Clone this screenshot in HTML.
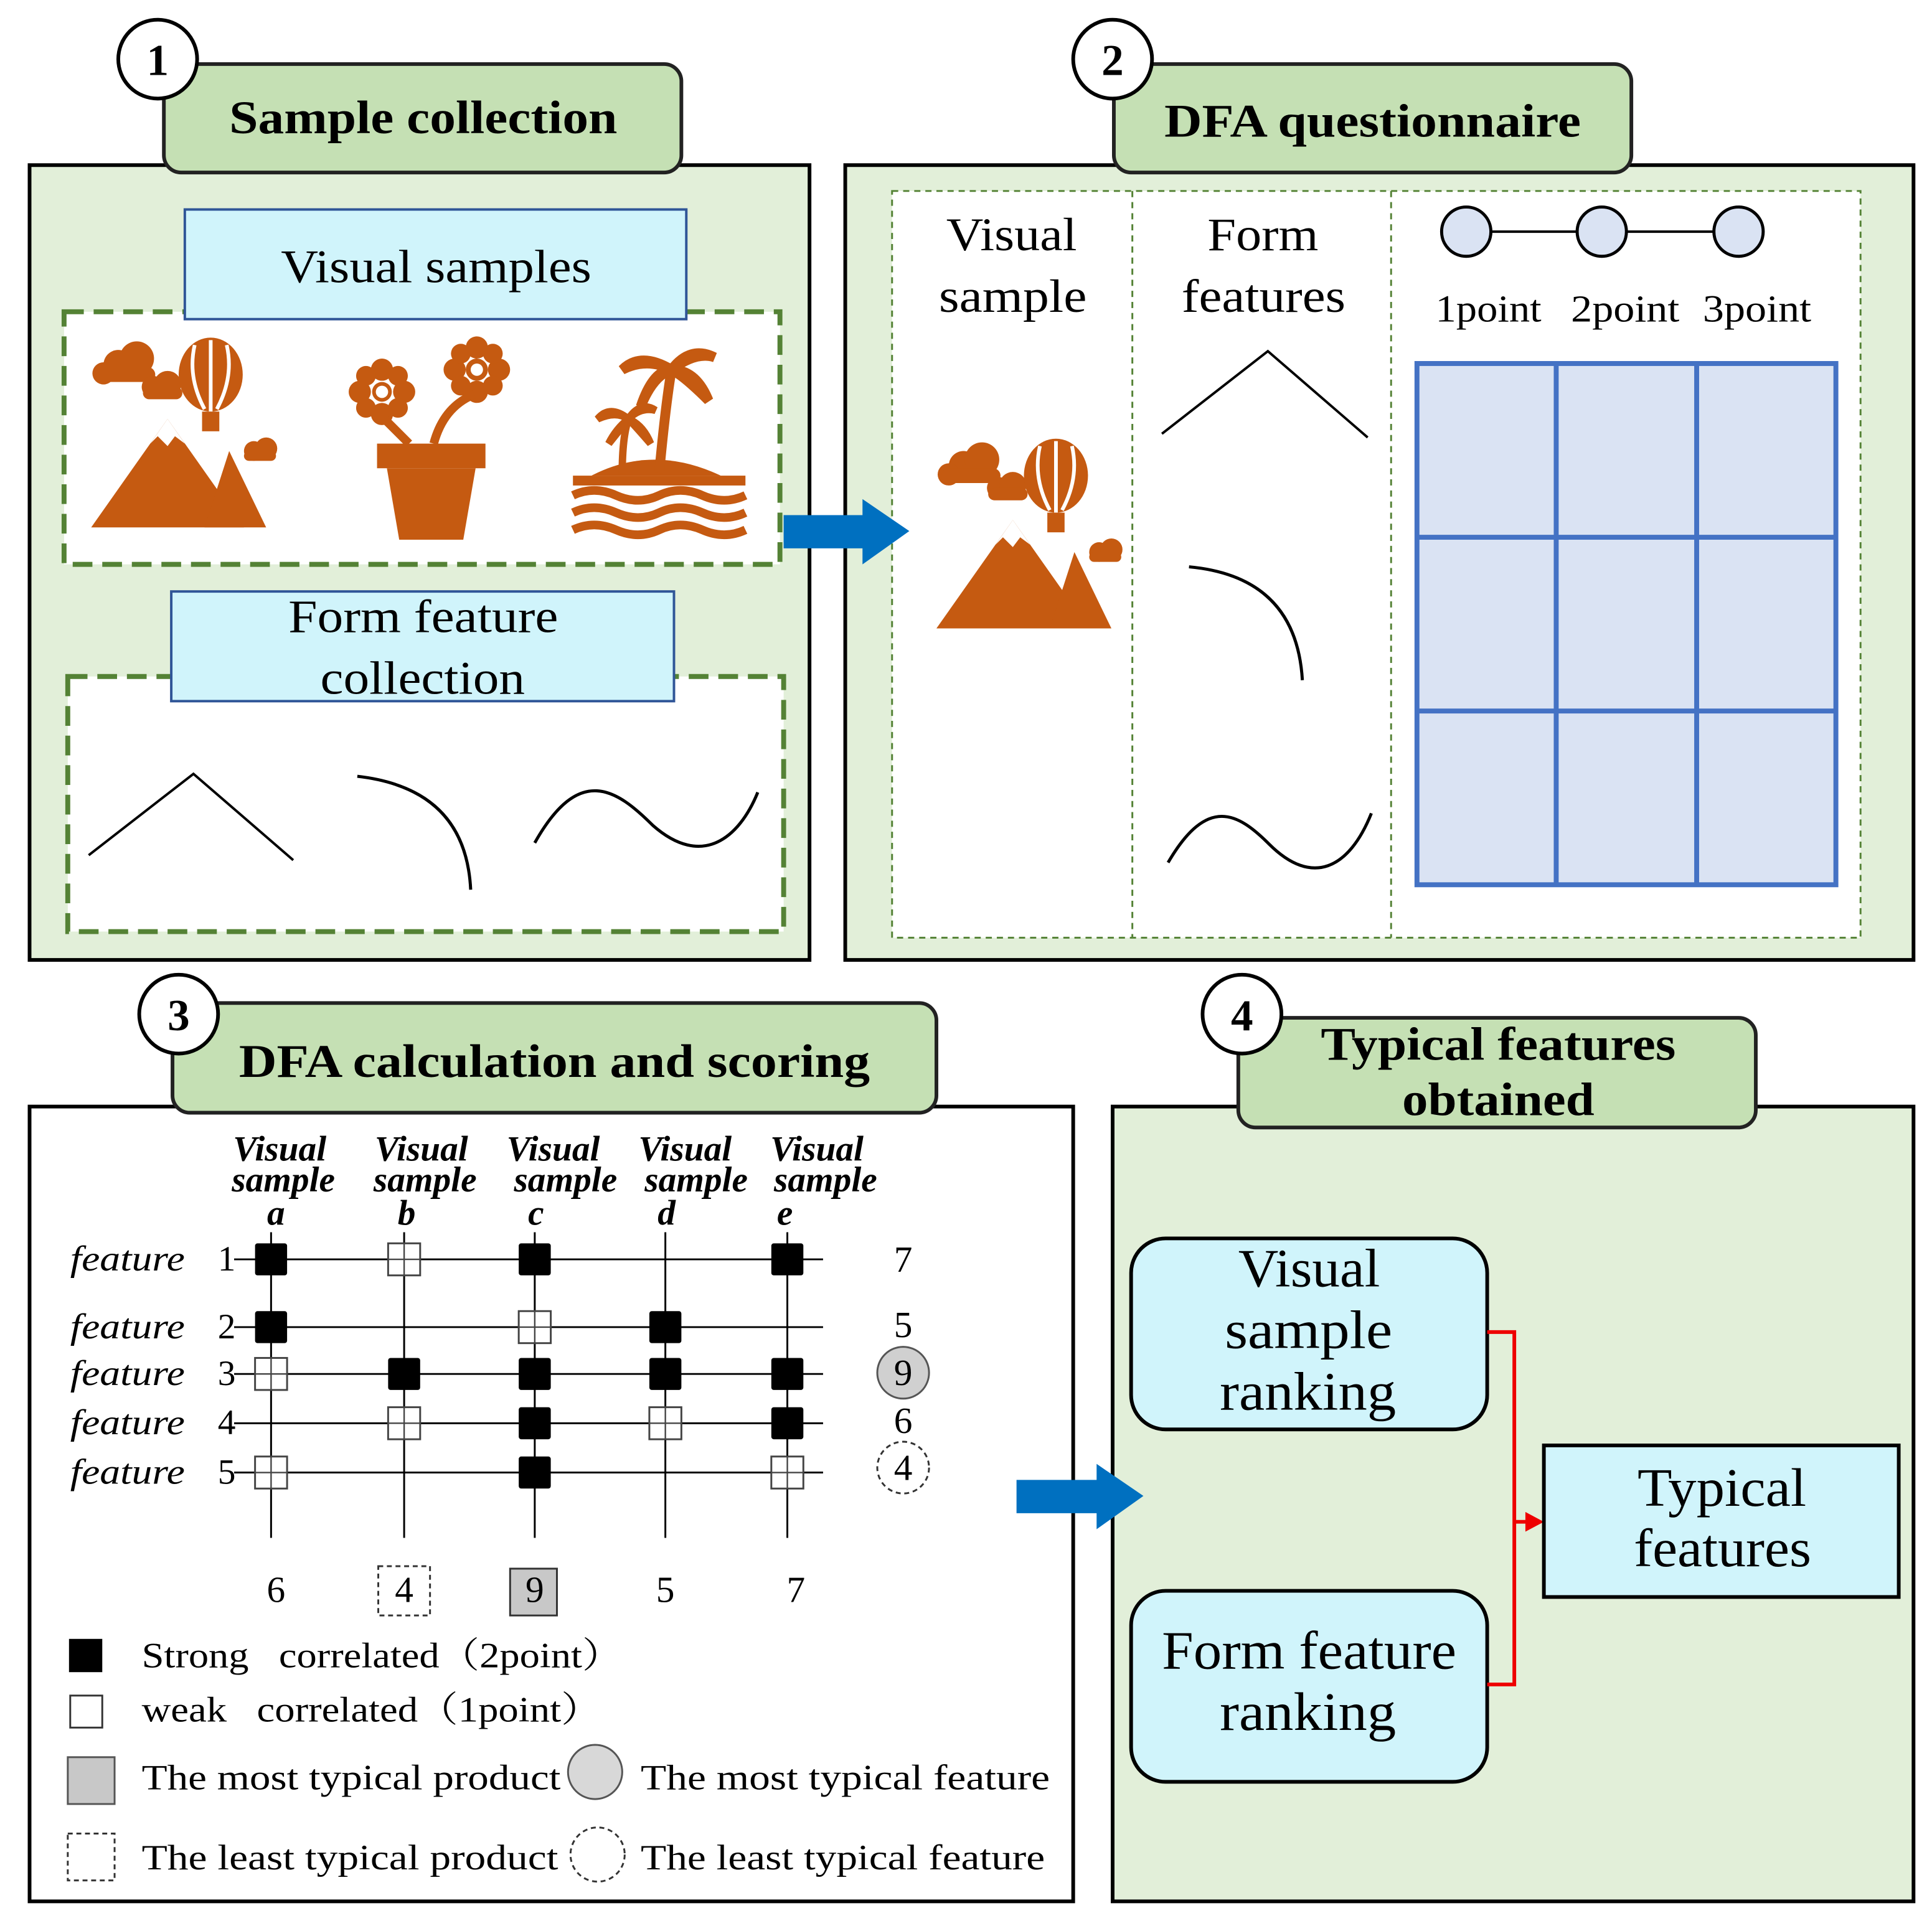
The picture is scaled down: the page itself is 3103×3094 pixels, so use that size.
<!DOCTYPE html>
<html><head><meta charset="utf-8"><style>html,body{margin:0;padding:0;background:#fff}svg{display:block}</style></head>
<body>
<svg width="3103" height="3094" viewBox="0 0 1568 1563" preserveAspectRatio="none" xmlns="http://www.w3.org/2000/svg" font-family="Liberation Serif, serif">
<defs>
<g id="mtn">
<circle cx="30" cy="20" r="12" fill="#c55a11"/><circle cx="45" cy="15" r="14" fill="#c55a11"/><circle cx="18" cy="27" r="9" fill="#c55a11"/><rect x="12" y="22" width="48" height="12" rx="6" fill="#c55a11"/>
<circle cx="58" cy="38" r="9" fill="#c55a11"/><circle cx="70" cy="36" r="11" fill="#c55a11"/><rect x="50" y="38" width="32" height="10" rx="5" fill="#c55a11"/>
<ellipse cx="105" cy="28" rx="26" ry="30" fill="#c55a11"/>
<path d="M105 0 V58 M92 4 Q86 30 100 56 M118 4 Q124 30 110 56" stroke="#fff" stroke-width="3" fill="none"/>
<rect x="98" y="58" width="14" height="16" fill="#c55a11"/>
<path d="M8 152 L70 64 L132 152 Z" fill="#c55a11"/>
<path d="M56 84 L70 64 L84 84 L76 78 L70 86 L62 78 Z" fill="#fff"/>
<path d="M100 152 L120 90 L150 152 Z" fill="#c55a11"/>
<circle cx="140" cy="90" r="8" fill="#c55a11"/><circle cx="150" cy="88" r="9" fill="#c55a11"/><rect x="132" y="90" width="26" height="8" rx="4" fill="#c55a11"/>
</g>
<g id="sq0"><rect x="-13" y="-13" width="26" height="26" fill="#000" rx="2"/></g>
<g id="sq1"><rect x="-13" y="-13" width="26" height="26" fill="#fff" stroke="#444" stroke-width="1.5"/><path d="M0 -13V13M-13 0H13" stroke="#444" stroke-width="1.2"/></g>
</defs>

<!-- Panel 1 -->
<rect x="24" y="134" width="633" height="645" fill="#e2efd9" stroke="#000" stroke-width="3"/>
<rect x="133" y="52" width="420" height="88" rx="14" fill="#c5e0b4" stroke="#222" stroke-width="3"/>
<text x="186" y="108" font-size="38" font-weight="bold" textLength="315" lengthAdjust="spacingAndGlyphs">Sample collection</text>
<circle cx="128" cy="48" r="32" fill="#fff" stroke="#000" stroke-width="3"/>
<text x="128" y="61" font-size="36" font-weight="bold" text-anchor="middle">1</text>
<rect x="52" y="253" width="581" height="205" fill="#fff" stroke="#548235" stroke-width="4" stroke-dasharray="16,8"/>
<rect x="150" y="170" width="407" height="89" fill="#d0f4fb" stroke="#2f5597" stroke-width="2"/>
<text x="228" y="229" font-size="38" textLength="252" lengthAdjust="spacingAndGlyphs">Visual samples</text>
<use href="#mtn" x="66" y="276"/>
<g fill="#c55a11">
<circle cx="310" cy="318" r="8"/><circle cx="310" cy="300" r="9"/><circle cx="310" cy="336" r="9"/><circle cx="292" cy="318" r="9"/><circle cx="328" cy="318" r="9"/><circle cx="297" cy="305" r="8"/><circle cx="323" cy="331" r="8"/><circle cx="297" cy="331" r="8"/><circle cx="323" cy="305" r="8"/>
<circle cx="387" cy="300" r="9"/><circle cx="387" cy="282" r="9"/><circle cx="387" cy="318" r="9"/><circle cx="369" cy="300" r="9"/><circle cx="405" cy="300" r="9"/><circle cx="374" cy="287" r="8"/><circle cx="400" cy="313" r="8"/><circle cx="374" cy="313" r="8"/><circle cx="400" cy="287" r="8"/>
<rect x="306" y="360" width="88" height="20"/><path d="M314 380 H386 L376 438 H324 Z"/>
</g>
<circle cx="310" cy="318" r="5" fill="#fff"/><circle cx="387" cy="300" r="5" fill="#fff"/>
<path d="M312 340 Q322 350 332 360 M385 320 Q360 330 352 360" stroke="#c55a11" stroke-width="7" fill="none"/>
<g fill="#c55a11">
<path d="M480 386 Q530 360 585 386 Z"/>
<path d="M535 384 Q540 330 545 300" stroke="#c55a11" stroke-width="8" fill="none"/>
<path d="M545 300 Q520 285 505 300 Q525 290 545 300 Q560 280 580 290 Q565 285 545 300 Q565 300 575 325 Q555 305 545 300 Q530 305 520 330 Q530 300 545 300Z" stroke="#c55a11" stroke-width="8"/>
<path d="M505 384 Q505 355 510 340" stroke="#c55a11" stroke-width="6" fill="none"/>
<path d="M510 340 Q495 328 485 340 Q500 333 510 340 Q520 325 532 333 Q520 330 510 340 Q522 345 528 360 Q515 345 510 340 Q500 348 494 360Z" stroke="#c55a11" stroke-width="6"/>
<rect x="465" y="386" width="140" height="8"/>
</g>
<path d="M465 402 q17 -8 35 0 t35 0 t35 0 t35 0 M465 416 q17 -8 35 0 t35 0 t35 0 t35 0 M465 430 q17 -8 35 0 t35 0 t35 0 t35 0" stroke="#c55a11" stroke-width="7" fill="none"/>
<rect x="55" y="549" width="581" height="207" fill="#fff" stroke="#548235" stroke-width="4" stroke-dasharray="16,8"/>
<rect x="139" y="480" width="408" height="89" fill="#d0f4fb" stroke="#2f5597" stroke-width="2"/>
<text x="234" y="513" font-size="38" textLength="219" lengthAdjust="spacingAndGlyphs">Form feature</text>
<text x="260" y="563" font-size="38" textLength="166" lengthAdjust="spacingAndGlyphs">collection</text>
<path d="M72 694 L157 628 L238 698" stroke="#000" stroke-width="2" fill="none"/>
<path d="M290 630 Q378 640 382 722" stroke="#000" stroke-width="2.5" fill="none"/>
<path d="M434 684 C470 620 500 640 530 670 C570 705 600 680 615 643" stroke="#000" stroke-width="2.5" fill="none"/>

<!-- Panel 2 -->
<rect x="686" y="134" width="867" height="645" fill="#e2efd9" stroke="#000" stroke-width="3"/>
<rect x="904" y="52" width="420" height="88" rx="14" fill="#c5e0b4" stroke="#222" stroke-width="3"/>
<text x="945" y="111" font-size="38" font-weight="bold" textLength="338" lengthAdjust="spacingAndGlyphs">DFA questionnaire</text>
<circle cx="903" cy="48" r="32" fill="#fff" stroke="#000" stroke-width="3"/>
<text x="903" y="61" font-size="36" font-weight="bold" text-anchor="middle">2</text>
<rect x="724" y="155" width="786" height="606" fill="#fff" stroke="#548235" stroke-width="1.5" stroke-dasharray="5,4"/>
<path d="M919 155V761M1129 155V761" stroke="#548235" stroke-width="1.5" stroke-dasharray="5,4"/>
<text x="768" y="203" font-size="38" textLength="106" lengthAdjust="spacingAndGlyphs">Visual</text>
<text x="762" y="253" font-size="38" textLength="120" lengthAdjust="spacingAndGlyphs">sample</text>
<text x="980" y="203" font-size="38" textLength="90" lengthAdjust="spacingAndGlyphs">Form</text>
<text x="959" y="253" font-size="38" textLength="133" lengthAdjust="spacingAndGlyphs">features</text>
<path d="M1190 188H1411" stroke="#000" stroke-width="2"/>
<circle cx="1190" cy="188" r="20" fill="#dae3f3" stroke="#000" stroke-width="2.5"/>
<circle cx="1300" cy="188" r="20" fill="#dae3f3" stroke="#000" stroke-width="2.5"/>
<circle cx="1411" cy="188" r="20" fill="#dae3f3" stroke="#000" stroke-width="2.5"/>
<text x="1165" y="261" font-size="31" textLength="86" lengthAdjust="spacingAndGlyphs">1point</text>
<text x="1275" y="261" font-size="31" textLength="88" lengthAdjust="spacingAndGlyphs">2point</text>
<text x="1382" y="261" font-size="31" textLength="88" lengthAdjust="spacingAndGlyphs">3point</text>
<rect x="1150" y="295" width="340" height="423" fill="#dae3f3" stroke="#4472c4" stroke-width="4"/>
<path d="M1263 295V718M1377 295V718M1150 436H1490M1150 577H1490" stroke="#4472c4" stroke-width="4"/>
<use href="#mtn" x="752" y="358"/>
<path d="M943 352 L1029 285 L1110 355" stroke="#000" stroke-width="2" fill="none"/>
<path d="M965 460 Q1052 468 1057 552" stroke="#000" stroke-width="2.5" fill="none"/>
<path d="M948 700 C980 645 1005 660 1030 685 C1065 720 1095 705 1113 660" stroke="#000" stroke-width="2.5" fill="none"/>
<path d="M636 418 H700 V405 L738 431 L700 458 V445 H636Z" fill="#0070c0"/>

<!-- Panel 3 -->
<rect x="24" y="898" width="847" height="645" fill="#fff" stroke="#000" stroke-width="3"/>
<rect x="140" y="814" width="620" height="89" rx="14" fill="#c5e0b4" stroke="#222" stroke-width="3"/>
<text x="194" y="874" font-size="38" font-weight="bold" textLength="512" lengthAdjust="spacingAndGlyphs">DFA calculation and scoring</text>
<circle cx="145" cy="823" r="32" fill="#fff" stroke="#000" stroke-width="3"/>
<text x="145" y="836" font-size="36" font-weight="bold" text-anchor="middle">3</text>
<g font-size="29" font-style="italic" font-weight="bold" text-anchor="middle">
<text x="227" y="942">Visual</text><text x="230" y="967">sample</text><text x="224" y="994">a</text>
<text x="342" y="942">Visual</text><text x="345" y="967">sample</text><text x="330" y="994">b</text>
<text x="449" y="942">Visual</text><text x="459" y="967">sample</text><text x="435" y="994">c</text>
<text x="556" y="942">Visual</text><text x="565" y="967">sample</text><text x="541" y="994">d</text>
<text x="663" y="942">Visual</text><text x="670" y="967">sample</text><text x="637" y="994">e</text>
</g>
<g stroke="#000" stroke-width="1.5">
<path d="M220 1000V1248M328 1000V1248M434 1000V1248M540 1000V1248M639 1000V1248"/>
<path d="M190 1022H668M190 1077H668M190 1115H668M190 1155H668M190 1195H668"/>
</g>
<g font-size="29" font-style="italic">
<text x="57" y="1031" textLength="93" lengthAdjust="spacingAndGlyphs">feature</text><text x="57" y="1086" textLength="93" lengthAdjust="spacingAndGlyphs">feature</text><text x="57" y="1124" textLength="93" lengthAdjust="spacingAndGlyphs">feature</text><text x="57" y="1164" textLength="93" lengthAdjust="spacingAndGlyphs">feature</text><text x="57" y="1204" textLength="93" lengthAdjust="spacingAndGlyphs">feature</text>
</g>
<g font-size="29" text-anchor="middle">
<text x="184" y="1031">1</text><text x="184" y="1086">2</text><text x="184" y="1124">3</text><text x="184" y="1164">4</text><text x="184" y="1204">5</text>
</g>
<use href="#sq0" x="220" y="1022"/><use href="#sq1" x="328" y="1022"/><use href="#sq0" x="434" y="1022"/><use href="#sq0" x="639" y="1022"/>
<use href="#sq0" x="220" y="1077"/><use href="#sq1" x="434" y="1077"/><use href="#sq0" x="540" y="1077"/>
<use href="#sq1" x="220" y="1115"/><use href="#sq0" x="328" y="1115"/><use href="#sq0" x="434" y="1115"/><use href="#sq0" x="540" y="1115"/><use href="#sq0" x="639" y="1115"/>
<use href="#sq1" x="328" y="1155"/><use href="#sq0" x="434" y="1155"/><use href="#sq1" x="540" y="1155"/><use href="#sq0" x="639" y="1155"/>
<use href="#sq1" x="220" y="1195"/><use href="#sq0" x="434" y="1195"/><use href="#sq1" x="639" y="1195"/>
<circle cx="733" cy="1114" r="21" fill="#d0d0d0" stroke="#555" stroke-width="1.5"/>
<circle cx="733" cy="1191" r="21" fill="#fff" stroke="#333" stroke-width="1.5" stroke-dasharray="4,3"/>
<rect x="307" y="1271" width="42" height="40" fill="#fff" stroke="#333" stroke-width="1.5" stroke-dasharray="4,3"/>
<rect x="414" y="1273" width="38" height="38" fill="#c8c8c8" stroke="#333" stroke-width="1.5"/>
<g font-size="30" text-anchor="middle">
<text x="733" y="1032">7</text><text x="733" y="1085">5</text><text x="733" y="1124">9</text><text x="733" y="1163">6</text><text x="733" y="1201">4</text>
<text x="224" y="1300">6</text><text x="328" y="1300">4</text><text x="434" y="1300">9</text><text x="540" y="1300">5</text><text x="646" y="1300">7</text>
</g>
<rect x="56" y="1330" width="27" height="27" fill="#000"/>
<rect x="57" y="1376" width="26" height="26" fill="#fff" stroke="#333" stroke-width="1.5"/>
<rect x="55" y="1426" width="38" height="38" fill="#c8c8c8" stroke="#555" stroke-width="1.5"/>
<rect x="55" y="1488" width="38" height="38" fill="#fff" stroke="#333" stroke-width="1.5" stroke-dasharray="4,3"/>
<circle cx="483" cy="1438" r="22" fill="#d8d8d8" stroke="#555" stroke-width="1.5"/>
<circle cx="485" cy="1505" r="22" fill="#fff" stroke="#333" stroke-width="1.5" stroke-dasharray="4,3"/>
<g font-size="29" font-family="Liberation Serif, Noto Serif CJK SC, serif">
<text x="115" y="1353" xml:space="preserve" textLength="390" lengthAdjust="spacingAndGlyphs">Strong   correlated（2point）</text>
<text x="115" y="1397" xml:space="preserve" textLength="373" lengthAdjust="spacingAndGlyphs">weak   correlated（1point）</text>
<text x="115" y="1452" textLength="340" lengthAdjust="spacingAndGlyphs">The most typical product</text>
<text x="520" y="1452" textLength="332" lengthAdjust="spacingAndGlyphs">The most typical feature</text>
<text x="115" y="1517" textLength="338" lengthAdjust="spacingAndGlyphs">The least typical product</text>
<text x="520" y="1517" textLength="328" lengthAdjust="spacingAndGlyphs">The least typical feature</text>
</g>

<!-- Panel 4 -->
<rect x="903" y="898" width="650" height="645" fill="#e2efd9" stroke="#000" stroke-width="3"/>
<rect x="1005" y="826" width="420" height="89" rx="14" fill="#c5e0b4" stroke="#222" stroke-width="3"/>
<text x="1072" y="860" font-size="38" font-weight="bold" textLength="288" lengthAdjust="spacingAndGlyphs">Typical features</text>
<text x="1138" y="905" font-size="38" font-weight="bold" textLength="156" lengthAdjust="spacingAndGlyphs">obtained</text>
<circle cx="1008" cy="823" r="32" fill="#fff" stroke="#000" stroke-width="3"/>
<text x="1008" y="836" font-size="36" font-weight="bold" text-anchor="middle">4</text>
<rect x="918" y="1005" width="289" height="155" rx="28" fill="#d0f4fb" stroke="#000" stroke-width="3"/>
<text x="1005" y="1044" font-size="44" textLength="115" lengthAdjust="spacingAndGlyphs">Visual</text>
<text x="994" y="1094" font-size="44" textLength="136" lengthAdjust="spacingAndGlyphs">sample</text>
<text x="990" y="1144" font-size="44" textLength="143" lengthAdjust="spacingAndGlyphs">ranking</text>
<rect x="918" y="1291" width="289" height="155" rx="28" fill="#d0f4fb" stroke="#000" stroke-width="3"/>
<text x="943" y="1354" font-size="44" textLength="239" lengthAdjust="spacingAndGlyphs">Form feature</text>
<text x="990" y="1404" font-size="44" textLength="143" lengthAdjust="spacingAndGlyphs">ranking</text>
<path d="M1207 1081 H1229 V1367 H1207 M1229 1235 H1240" stroke="#e00" stroke-width="3" fill="none"/>
<path d="M1238 1227 L1253 1235 L1238 1243Z" fill="#e00"/>
<rect x="1253" y="1173" width="288" height="123" fill="#d0f4fb" stroke="#000" stroke-width="3"/>
<text x="1329" y="1222" font-size="44" textLength="137" lengthAdjust="spacingAndGlyphs">Typical</text>
<text x="1326" y="1271" font-size="44" textLength="144" lengthAdjust="spacingAndGlyphs">features</text>
<path d="M825 1201 H890 V1188 L928 1214 L890 1241 V1228 H825Z" fill="#0070c0"/>
</svg>
</body></html>
